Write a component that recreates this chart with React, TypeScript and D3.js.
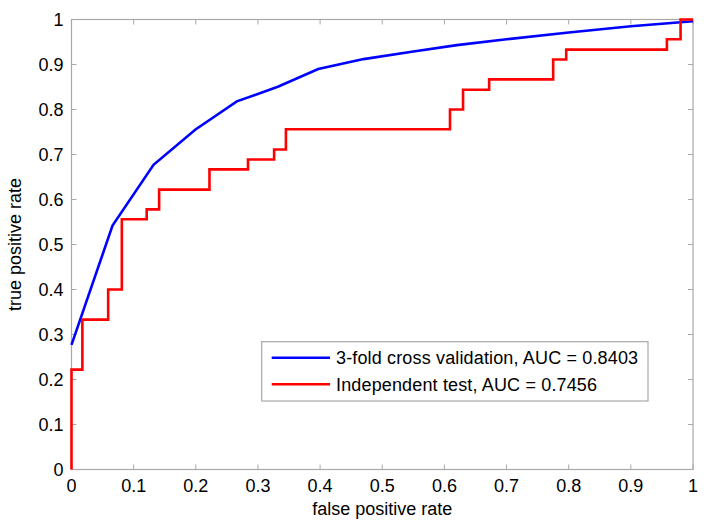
import React from 'react';
import * as d3 from 'd3';

// 3-fold cross validation ROC (fpr, tpr)
const cvFpr = [0, 0.066, 0.132, 0.199, 0.266, 0.333, 0.397, 0.47, 0.55, 0.62, 0.7, 0.8, 0.9, 1];
const cvTpr = [0.277, 0.542, 0.677, 0.755, 0.818, 0.851, 0.89, 0.912, 0.929, 0.943, 0.956, 0.971, 0.985, 0.996];

// independent test ROC, step corners
const testFpr = [0, 0, 0.0175, 0.0175, 0.059, 0.059, 0.081, 0.081, 0.121, 0.121, 0.141, 0.141, 0.222, 0.222,
  0.284, 0.284, 0.326, 0.326, 0.345, 0.345, 0.609, 0.609, 0.63, 0.63, 0.672, 0.672, 0.775, 0.775,
  0.796, 0.796, 0.958, 0.958, 0.98, 0.98, 1];
const testTpr = [0, 0.222, 0.222, 0.333, 0.333, 0.4, 0.4, 0.556, 0.556, 0.578, 0.578, 0.622, 0.622, 0.667,
  0.667, 0.689, 0.689, 0.711, 0.711, 0.756, 0.756, 0.8, 0.8, 0.844, 0.844, 0.867, 0.867, 0.911,
  0.911, 0.933, 0.933, 0.956, 0.956, 1, 1];

const tickValues = [0, 0.1, 0.2, 0.3, 0.4, 0.5, 0.6, 0.7, 0.8, 0.9, 1];
const legendLabels = ['3-fold cross validation, AUC = 0.8403', 'Independent test, AUC = 0.7456'];
const legendColors = ['#0000ff', '#ff0000'];

export default function App() {
  const width = 707;
  const height = 530;
  const margin = { top: 19.5, right: 14, bottom: 60.5, left: 71.5 };
  const innerWidth = width - margin.left - margin.right;
  const innerHeight = height - margin.top - margin.bottom;

  const x = d3.scaleLinear().domain([0, 1]).range([0, innerWidth]);
  const y = d3.scaleLinear().domain([0, 1]).range([innerHeight, 0]);

  const line = d3.line<[number, number]>()
    .x(d => x(d[0]))
    .y(d => y(d[1]));

  const cvPts = cvFpr.map((f, i) => [f, cvTpr[i]] as [number, number]);
  const testPts = testFpr.map((f, i) => [f, testTpr[i]] as [number, number]);

  const font = '"Liberation Sans", Arial, sans-serif';
  const axisColor = '#a8a8a8';
  const tickLen = 5;

  // legend box
  const lx = 261.7 - margin.left;
  const ly = 341.7 - margin.top;
  const lw = 386.3;
  const lh = 59.3;

  return (
    <svg width={width} height={height} style={{ position: 'absolute', left: 0, top: 0, background: '#fff' }}>
      <g transform={`translate(${margin.left},${margin.top})`}>
        <rect x={0} y={0} width={innerWidth} height={innerHeight} fill="#fff" />

        {/* ticks on all four sides */}
        {tickValues.map(t => (
          <g key={`t${t}`} stroke={axisColor} strokeWidth={1}>
            <line x1={x(t)} x2={x(t)} y1={innerHeight} y2={innerHeight - tickLen} />
            <line x1={x(t)} x2={x(t)} y1={0} y2={tickLen} />
            <line x1={0} x2={tickLen} y1={y(t)} y2={y(t)} />
            <line x1={innerWidth} x2={innerWidth - tickLen} y1={y(t)} y2={y(t)} />
          </g>
        ))}

        <rect x={0} y={0} width={innerWidth} height={innerHeight} fill="none" stroke={axisColor} strokeWidth={1.2} />

        <path d={line(cvPts) ?? ''} fill="none" stroke="#0000ff" strokeWidth={2.6} strokeLinejoin="miter" />
        <path d={line(testPts) ?? ''} fill="none" stroke="#ff0000" strokeWidth={2.6} strokeLinejoin="miter" />

        {/* tick labels */}
        {tickValues.map(t => (
          <text key={`xl${t}`} x={x(t)} y={innerHeight + 22.5} textAnchor="middle"
            fontFamily={font} fontSize={18} fill="#000">{d3.format('~g')(t)}</text>
        ))}
        {tickValues.map(t => (
          <text key={`yl${t}`} x={-8} y={y(t)} dy="0.35em" textAnchor="end"
            fontFamily={font} fontSize={18} fill="#000">{d3.format('~g')(t)}</text>
        ))}

        {/* legend */}
        <rect x={lx} y={ly} width={lw} height={lh} fill="#fff" stroke={axisColor} strokeWidth={1.2} />
        {legendLabels.map((label, i) => (
          <g key={label} transform={`translate(${lx},${ly + 16 + i * 26.5})`}>
            <line x1={10} x2={68.3} y1={0} y2={0} stroke={legendColors[i]} strokeWidth={2.6} />
            <text x={74.3} y={6.3} fontFamily={font} fontSize={18} letterSpacing={0.15} fill="#000">{label}</text>
          </g>
        ))}
      </g>

      {/* axis titles */}
      <text x={margin.left + innerWidth / 2} y={515} textAnchor="middle" fontFamily={font} fontSize={18} fill="#000">
        false positive rate
      </text>
      <text transform={`translate(21,${margin.top + innerHeight / 2}) rotate(-90)`} textAnchor="middle"
        fontFamily={font} fontSize={18} fill="#000">
        true positive rate
      </text>
    </svg>
  );
}
